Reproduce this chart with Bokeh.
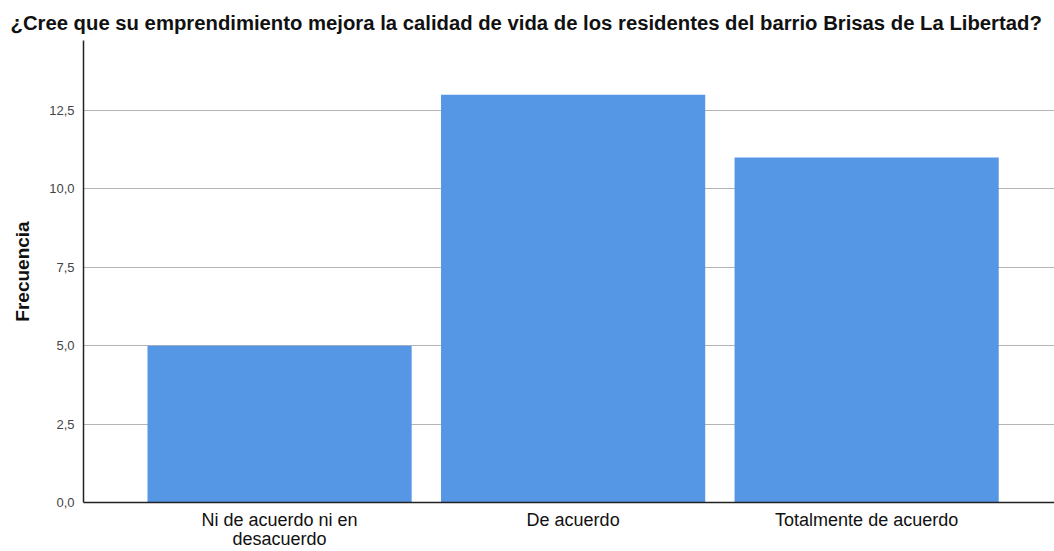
import numpy as np
from bokeh.plotting import figure
from bokeh.models import Range1d, FixedTicker, ColumnDataSource
from bokeh.embed import file_html
from bokeh.resources import INLINE

title = "¿Cree que su emprendimiento mejora la calidad de vida de los residentes del barrio Brisas de La Libertad?"
categories = ["Ni de acuerdo ni en\ndesacuerdo", "De acuerdo", "Totalmente de acuerdo"]
values = [5, 13, 11]
y_ticks = [0, 2.5, 5, 7.5, 10, 12.5]
y_tick_labels = ["0,0", "2,5", "5,0", "7,5", "10,0", "12,5"]

xs = list(range(len(categories)))
src = ColumnDataSource(dict(x=xs, top=values))

p = figure(frame_width=971, frame_height=462, output_backend="svg", toolbar_location=None,
           x_range=Range1d(-0.668, 2.64), y_range=Range1d(0, 14.73),
           min_border_left=83, min_border_right=0, min_border_top=40, min_border_bottom=40)
p.title.text = title
p.title.text_font = "Liberation Sans"
p.title.text_font_size = "20.3px"
p.title.text_font_style = "bold"
p.title.text_color = "#111111"
p.title.align = "left"
p.title.offset = -73
p.title.standoff = 14
p.outline_line_color = None

p.vbar(x="x", top="top", width=0.9, source=src, fill_color="#5596E5", line_color=None)

p.xaxis.ticker = FixedTicker(ticks=xs)
p.xaxis.major_label_overrides = {i: c for i, c in enumerate(categories)}
p.xaxis.major_label_text_font = "Liberation Sans"
p.xaxis.major_label_text_font_size = "18px"
p.xaxis.major_label_text_color = "#111111"
p.xaxis.major_label_text_line_height = 0.95
p.xaxis.major_tick_line_color = None
p.xaxis.minor_tick_line_color = None
p.xaxis.axis_line_color = "#222222"
p.xaxis.axis_line_width = 1.5
p.xaxis.major_label_standoff = 1

p.yaxis.ticker = FixedTicker(ticks=y_ticks)
p.yaxis.major_label_overrides = {t: l for t, l in zip(y_ticks, y_tick_labels)}
p.yaxis.major_label_text_font = "Liberation Sans"
p.yaxis.major_label_text_font_size = "13px"
p.yaxis.major_label_text_color = "#444444"
p.yaxis.major_tick_line_color = None
p.yaxis.minor_tick_line_color = None
p.yaxis.axis_line_color = "#222222"
p.yaxis.axis_line_width = 1.5
p.yaxis.major_label_standoff = 3
p.yaxis.axis_label = "Frecuencia"
p.yaxis.axis_label_text_font = "Liberation Sans"
p.yaxis.axis_label_text_font_size = "19px"
p.yaxis.axis_label_text_font_style = "bold"
p.yaxis.axis_label_text_color = "#111111"
p.yaxis.axis_label_standoff = 13

p.xgrid.grid_line_color = None
p.ygrid.ticker = FixedTicker(ticks=y_ticks)
p.ygrid.grid_line_color = "#b4b4b4"
p.ygrid.grid_line_width = 1.2

open("out.html", "w").write(file_html(p, INLINE))
